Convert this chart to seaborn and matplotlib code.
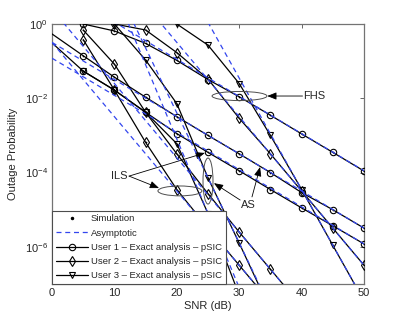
import matplotlib
matplotlib.use('Agg')
import matplotlib.pyplot as plt
import seaborn as sns
import pandas as pd
from matplotlib.patches import Ellipse
from matplotlib.lines import Line2D

# ---------------- data ----------------
snr_fhs_u1 = [5, 10, 15, 20, 25, 30, 35, 40, 45, 50]
out_fhs_u1 = [1.0, 0.65, 0.30, 0.105, 3.2e-2, 1.1e-2, 3.5e-3, 1.1e-3, 3.5e-4, 1.1e-4]
snr_fhs_u2 = [10, 15, 20, 25, 30, 35, 40, 45, 50]
out_fhs_u2 = [1.0, 0.69, 0.17, 3.3e-2, 2.9e-3, 3.2e-4, 3.2e-5, 3.2e-6, 3.2e-7]
snr_fhs_u3 = [20, 25, 30, 35, 40, 45, 50]
out_fhs_u3 = [1.0, 0.27, 2.5e-2, 1.0e-3, 3.5e-5, 1.1e-6, 3.5e-8]

snr_as_u1 = [0, 5, 10, 15, 20, 25, 30, 35, 40, 45, 50]
out_as_u1 = [0.54, 0.14, 3.7e-2, 1.07e-2, 3.2e-3, 1.0e-3, 3.2e-4, 1.0e-4, 2.9e-5, 1.0e-5, 3.2e-6]
snr_as_u2 = [5, 10, 15, 20, 25, 30, 35, 40]
out_as_u2 = [0.69, 8.3e-2, 4.2e-3, 3.2e-4, 2.7e-5, 2.5e-6, 2.5e-7, 2.5e-8]
snr_as_u3 = [10, 15, 20, 25, 30, 35]
out_as_u3 = [1.0, 0.107, 7.2e-3, 7.2e-5, 1.26e-6, 2.0e-8]

snr_ils_u1 = [0, 5, 10, 15, 20, 25, 30, 35, 40, 45, 50]
out_ils_u1 = [0.31, 5.4e-2, 1.66e-2, 4.2e-3, 1.12e-3, 3.5e-4, 1.12e-4, 3.5e-5, 1.12e-5, 3.7e-6, 1.2e-6]
snr_ils_u2 = [5, 10, 15, 20, 25, 30, 35]
out_ils_u2 = [0.38, 1.66e-2, 6.5e-4, 3.5e-5, 3.2e-6, 3.2e-7, 3.2e-8]
snr_ils_u3 = [5, 10, 15, 20, 25, 30]
out_ils_u3 = [5.4e-2, 1.66e-2, 4.2e-3, 6.0e-4, 7.9e-6, 5.0e-8]

# asymptotic straight lines (end points at 0 dB and 50 dB)
asym_snr = [0, 50]
asym_fhs_u1 = [11.2, 1.12e-4]
asym_fhs_u2 = [3.2e3, 3.2e-7]
asym_fhs_u3 = [3.5e7, 3.5e-8]
asym_as_u1 = [0.32, 3.2e-6]
asym_as_u2 = [2.5, 2.5e-10]
asym_as_u3 = [4.0e4, 1.3e-13]
asym_ils_u1 = [0.12, 1.2e-6]
asym_ils_u2 = [0.32, 3.2e-11]
asym_ils_u3 = [8.0e4, 8.0e-16]

legend_labels = ['Simulation', 'Asymptotic',
                 'User 1 \u2013 Exact analysis \u2013 pSIC',
                 'User 2 \u2013 Exact analysis \u2013 pSIC',
                 'User 3 \u2013 Exact analysis \u2013 pSIC']
xticks = [0, 10, 20, 30, 40, 50]
yticks = [1e-6, 1e-4, 1e-2, 1e0]

# ---------------- style ----------------
sns.set_style('white')
plt.rcParams['font.family'] = ['Liberation Sans', 'DejaVu Sans']
plt.rcParams['mathtext.fontset'] = 'custom'
plt.rcParams['mathtext.rm'] = 'Liberation Sans'
plt.rcParams['mathtext.it'] = 'Liberation Sans:italic'
plt.rcParams['xtick.direction'] = 'in'
plt.rcParams['ytick.direction'] = 'in'

BLUE = '#3346ee'
fig = plt.figure(figsize=(4.02, 3.19), dpi=100)
ax = fig.add_axes([52 / 402, 1 - 284 / 319, 312 / 402, 260 / 319])
ax.set_yscale('log')

curves = [
    (snr_fhs_u1, out_fhs_u1, 'o'), (snr_fhs_u2, out_fhs_u2, 'd'), (snr_fhs_u3, out_fhs_u3, 'v'),
    (snr_as_u1, out_as_u1, 'o'), (snr_as_u2, out_as_u2, 'd'), (snr_as_u3, out_as_u3, 'v'),
    (snr_ils_u1, out_ils_u1, 'o'), (snr_ils_u2, out_ils_u2, 'd'), (snr_ils_u3, out_ils_u3, 'v'),
]
for xs, ys, m in curves:
    df = pd.DataFrame({'snr': xs, 'p': ys})
    mev = [i for i, v in enumerate(xs) if v > 0]
    sns.lineplot(data=df, x='snr', y='p', ax=ax, color='k', lw=0.9, marker=m,
                 markersize=4.6 if m != 'v' else 4.8, markerfacecolor='none',
                 markeredgecolor='k', markeredgewidth=0.8, markevery=mev,
                 estimator=None, sort=False, legend=False, zorder=3)
    sim = df[df['snr'] > 0]
    sns.scatterplot(data=sim, x='snr', y='p', ax=ax, color='k', marker='.', s=6,
                    linewidth=0, legend=False, zorder=4)

for ys in [asym_fhs_u1, asym_fhs_u2, asym_fhs_u3, asym_as_u1, asym_as_u2,
           asym_as_u3, asym_ils_u1, asym_ils_u2, asym_ils_u3]:
    sns.lineplot(x=asym_snr, y=ys, ax=ax, color=BLUE, lw=0.9, dashes=False,
                 linestyle=(0, (4, 3)), estimator=None, legend=False, zorder=5)

ax.set_xlim(0, 50)
ax.set_ylim(1e-7, 1)
ax.set_xticks(xticks)
ax.set_yticks(yticks)
ax.yaxis.set_minor_locator(matplotlib.ticker.NullLocator())
ax.tick_params(axis='both', which='major', labelsize=8, length=3, width=0.6,
               top=True, right=True, color='0.3', pad=3)
for s in ax.spines.values():
    s.set_color('0.45')
    s.set_linewidth(0.9)
ax.set_xlabel('SNR (dB)', fontsize=8, labelpad=2)
ax.set_ylabel('Outage Probability', fontsize=8, labelpad=5)

# ---------------- annotations ----------------
ap = dict(arrowstyle='-|>,head_length=0.55,head_width=0.22', color='k', lw=0.6,
          shrinkA=0, shrinkB=0)
ta = ax.transAxes
ax.add_patch(Ellipse((0.601, 0.723), 0.176, 0.035, transform=ta, fill=False,
                     ec='0.3', lw=0.7, zorder=6))
ax.text(0.806, 0.723, 'FHS', transform=ta, fontsize=8, ha='left', va='center')
ax.annotate('', xy=(0.69, 0.723), xytext=(0.803, 0.723), xycoords=ta,
            textcoords=ta, arrowprops=ap)

ax.add_patch(Ellipse((0.410, 0.358), 0.141, 0.038, transform=ta, fill=False,
                     ec='0.3', lw=0.7, zorder=6))
ax.text(0.243, 0.415, 'ILS', transform=ta, fontsize=8, ha='right', va='center')
ax.annotate('', xy=(0.490, 0.504), xytext=(0.247, 0.415), xycoords=ta,
            textcoords=ta, arrowprops=ap)
ax.annotate('', xy=(0.343, 0.369), xytext=(0.247, 0.415), xycoords=ta,
            textcoords=ta, arrowprops=ap)

ax.add_patch(Ellipse((0.500, 0.396), 0.032, 0.177, transform=ta, fill=False,
                     ec='0.3', lw=0.7, zorder=6))
ax.text(0.628, 0.304, 'AS', transform=ta, fontsize=8, ha='center', va='center')
ax.annotate('', xy=(0.667, 0.45), xytext=(0.641, 0.335), xycoords=ta,
            textcoords=ta, arrowprops=ap)
ax.annotate('', xy=(0.519, 0.388), xytext=(0.603, 0.323), xycoords=ta,
            textcoords=ta, arrowprops=ap)

# ---------------- legend ----------------
handles = [
    Line2D([], [], ls='', marker='.', color='k', ms=3),
    Line2D([], [], color=BLUE, lw=0.9, ls=(0, (4, 3))),
    Line2D([], [], color='k', lw=0.9, marker='o', mfc='none', ms=4.6, mew=0.8),
    Line2D([], [], color='k', lw=0.9, marker='d', mfc='none', ms=4.6, mew=0.8),
    Line2D([], [], color='k', lw=0.9, marker='v', mfc='none', ms=4.8, mew=0.8),
]
leg = ax.legend(handles, legend_labels, loc='lower left', bbox_to_anchor=(0, 0),
                borderaxespad=0, fontsize=6.8, frameon=True, fancybox=False,
                edgecolor='0.3', framealpha=1, handlelength=3.4, handletextpad=0.3,
                labelspacing=0.55, borderpad=0.4)
leg.get_frame().set_linewidth(0.8)
leg.set_zorder(10)

fig.savefig('out.png', dpi=100)
